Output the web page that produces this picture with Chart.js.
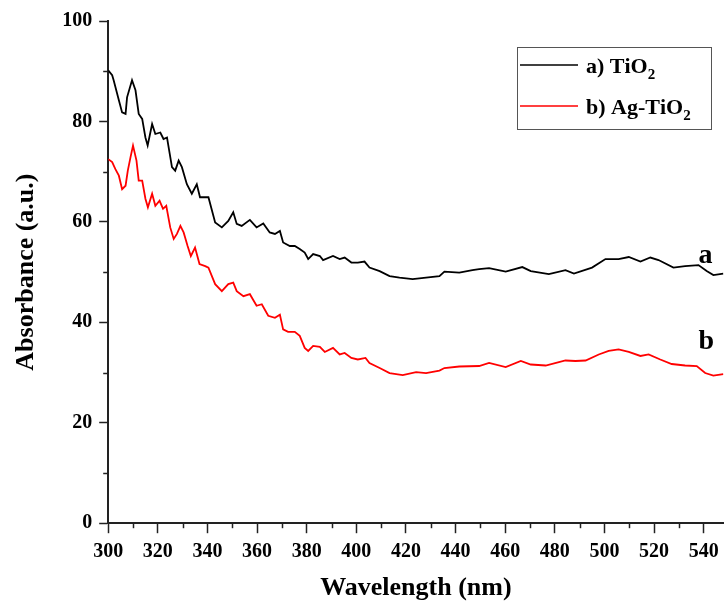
<!DOCTYPE html>
<html><head><meta charset="utf-8">
<script src="https://cdn.jsdelivr.net/npm/chart.js@4.4.1/dist/chart.umd.min.js"></script>
<style>html,body{margin:0;padding:0;background:#fff}#wrap{width:725px;height:604px;position:relative}</style>
</head><body><div id="wrap"><canvas id="c"></canvas></div>
<script>
// ---- data ----
const wavelengthA = [300,301.6,302.2,304.3,305.6,307,307.6,309.6,311,312.3,313.7,315,315.9,317.7,319,321,322.3,323.7,325.7,327,328.4,329.7,331.7,333.7,335.7,337,339,340.4,343.1,345.8,348.4,350.4,351.8,353.8,357.1,359.8,362.5,365.1,367.2,369.2,370.5,373.2,375.2,377.2,379.2,380.6,382.6,385.3,386.6,390.6,393.3,395.3,398,400.6,403.3,405.3,409.4,413.4,417.4,422.7,428.1,433.5,435.5,441.5,446.8,449.5,453.5,460.2,466.9,470.3,477.6,484.3,487.7,495,500.4,505.7,509.8,514.5,518.5,521.8,527.8,532.5,537.9,541.2,543.9,547.9];
const absorbanceA = [90.2,89.2,88.2,84.2,81.8,81.5,84.8,88.2,86.2,81.5,80.5,76.8,75.2,79.5,77.5,77.8,76.5,76.8,70.9,70.2,72.2,70.9,67.5,65.6,67.5,64.9,64.9,64.9,59.9,58.9,60.2,61.9,59.6,59.2,60.4,58.9,59.7,57.9,57.6,58.2,55.9,55.2,55.2,54.6,53.9,52.6,53.6,53.2,52.4,53.2,52.6,52.9,51.9,51.9,52.1,50.9,50.2,49.2,48.9,48.6,48.9,49.2,50.1,49.9,50.4,50.6,50.8,50.1,51.0,50.2,49.6,50.4,49.7,50.9,52.6,52.6,53.0,52.1,52.9,52.4,50.9,51.2,51.4,50.2,49.4,49.7];
const wavelengthB = [300,301.6,302.9,304.3,305.6,307,307.9,309,310,311.4,312.3,313.7,315,316,317.7,319,320.7,322.1,323.4,325,326.4,327.7,329.1,330.4,332,333.3,335,336.8,339.1,340.4,343.1,345.8,348.4,350.4,351.8,354.5,357.1,359.8,361.9,364.5,367.2,369.2,370.5,372.5,375.2,377.2,379.2,380.6,382.6,385.3,387.3,390.6,393.3,395.3,398,400.6,403.7,405.3,409.4,413.4,418.7,424.1,428.1,433.5,435.5,441.5,449.5,453.5,460.2,466.3,470.3,476.3,484.3,488.3,492.4,497.7,501.7,505.7,509.8,514.5,517.8,522.5,527.1,532.5,537.2,540.6,543.9,547.9];
const absorbanceB = [72.5,71.9,70.5,69.2,66.5,67.2,70.2,72.9,75.2,72.2,68.2,68.2,64.6,62.9,65.6,63.2,64.2,62.6,63.2,58.9,56.6,57.6,59.2,57.9,55.2,53.2,54.9,51.6,51.2,50.9,47.6,46.2,47.6,47.9,46.2,45.2,45.6,43.3,43.6,41.3,40.9,41.5,38.6,38.1,38.1,37.3,34.9,34.3,35.3,35.1,34.1,34.9,33.6,33.9,32.9,32.6,32.9,31.9,30.9,29.9,29.5,30.1,29.9,30.4,30.9,31.2,31.3,31.9,31.1,32.3,31.6,31.4,32.4,32.3,32.4,33.6,34.3,34.6,34.1,33.3,33.6,32.6,31.7,31.4,31.3,29.9,29.4,29.7];
const xTicks = [300,320,340,360,380,400,420,440,460,480,500,520,540];
const xMinorTicks = [310,330,350,370,390,410,430,450,470,490,510,530];
const yTicks = [0,20,40,60,80,100];
const yMinorTicks = [10,30,50,70,90];
const seriesLabels = ['a) TiO\u2082', 'b) Ag-TiO\u2082'];
const curveTags = ['a', 'b'];
const xTitle = 'Wavelength (nm)';
const yTitle = 'Absorbance (a.u.)';

const SERIF = '"Liberation Serif", "Times New Roman", serif';
const colors = ['#000000', '#ff0000'];

function pts(xs, ys) { return xs.map((x, i) => ({ x: x, y: ys[i] })); }

const extras = {
  id: 'extras',
  afterDraw(chart) {
    const ctx = chart.ctx, xs = chart.scales.x, ys = chart.scales.y, a = chart.chartArea;
    ctx.save();
    // minor ticks
    ctx.strokeStyle = '#222'; ctx.lineWidth = 1.5;
    xMinorTicks.forEach(v => {
      const p = Math.round(xs.getPixelForValue(v)) + 0.5;
      ctx.beginPath(); ctx.moveTo(p, a.bottom); ctx.lineTo(p, a.bottom + 5); ctx.stroke();
    });
    yMinorTicks.forEach(v => {
      const p = Math.round(ys.getPixelForValue(v)) + 0.5;
      ctx.beginPath(); ctx.moveTo(a.left, p); ctx.lineTo(a.left - 5, p); ctx.stroke();
    });
    // curve tags
    ctx.fillStyle = '#000';
    ctx.font = 'bold 28px ' + SERIF;
    ctx.textBaseline = 'alphabetic'; ctx.textAlign = 'left';
    const tagPos = [[537.9, 51.8], [537.9, 34.6]];
    curveTags.forEach((t, i) => {
      ctx.fillText(t, xs.getPixelForValue(tagPos[i][0]), ys.getPixelForValue(tagPos[i][1]));
    });
    // legend box
    const bx = 517, by = 47, bw = 194, bh = 82;
    ctx.strokeStyle = '#555'; ctx.lineWidth = 1;
    ctx.strokeRect(bx + 0.5, by + 0.5, bw, bh);
    const rowY = [65, 106];
    chart.data.datasets.forEach((ds, i) => {
      ctx.strokeStyle = ds.borderColor; ctx.lineWidth = 1.6;
      ctx.beginPath(); ctx.moveTo(520, rowY[i]); ctx.lineTo(578, rowY[i]); ctx.stroke();
      // label with subscript digits
      let x = 586; const base = rowY[i] + 8;
      ctx.fillStyle = '#000';
      for (const ch of ds.label) {
        const code = ch.charCodeAt(0);
        if (code >= 0x2080 && code <= 0x2089) {
          const d = String(code - 0x2080);
          ctx.font = 'bold 15px ' + SERIF;
          ctx.fillText(d, x, base + 6);
          x += ctx.measureText(d).width;
        } else {
          ctx.font = 'bold 22px ' + SERIF;
          ctx.fillText(ch, x, base);
          x += ctx.measureText(ch).width;
        }
      }
    });
    ctx.restore();
  }
};

new Chart(document.getElementById('c'), {
  type: 'line',
  data: {
    datasets: [
      { label: seriesLabels[0], data: pts(wavelengthA, absorbanceA), borderColor: colors[0], borderWidth: 1.8, pointRadius: 0, tension: 0, fill: false },
      { label: seriesLabels[1], data: pts(wavelengthB, absorbanceB), borderColor: colors[1], borderWidth: 1.8, pointRadius: 0, tension: 0, fill: false }
    ]
  },
  options: {
    responsive: true, maintainAspectRatio: false, animation: false, devicePixelRatio: 1,
    layout: { padding: { top: 21, left: 8, right: 0, bottom: 0 } },
    plugins: { legend: { display: false }, tooltip: { enabled: false } },
    scales: {
      x: {
        type: 'linear', min: 300, max: 548,
        afterBuildTicks: s => { s.ticks = xTicks.map(v => ({ value: v })); },
        grid: { display: true, drawOnChartArea: false, drawTicks: true, tickLength: 10, tickColor: '#222', tickWidth: 1.5 },
        border: { display: true, color: '#222', width: 2 },
        ticks: { color: '#000', padding: 6.3, font: { family: SERIF, size: 20, weight: 'bold' }, maxRotation: 0 },
        title: { display: true, text: xTitle, color: '#000', font: { family: SERIF, size: 26, weight: 'bold' }, padding: { top: 3, bottom: 0 } }
      },
      y: {
        type: 'linear', min: 0, max: 100,
        afterBuildTicks: s => { s.ticks = yTicks.map(v => ({ value: v })); },
        grid: { display: true, drawOnChartArea: false, drawTicks: true, tickLength: 9, tickColor: '#222', tickWidth: 1.5 },
        border: { display: true, color: '#222', width: 2 },
        ticks: { color: '#000', padding: 7, font: { family: SERIF, size: 20, weight: 'bold' } },
        title: { display: true, text: yTitle, color: '#000', font: { family: SERIF, size: 26, weight: 'bold' }, padding: { top: 3, bottom: 13 } }
      }
    }
  },
  plugins: [extras]
});
</script>
</body></html>
